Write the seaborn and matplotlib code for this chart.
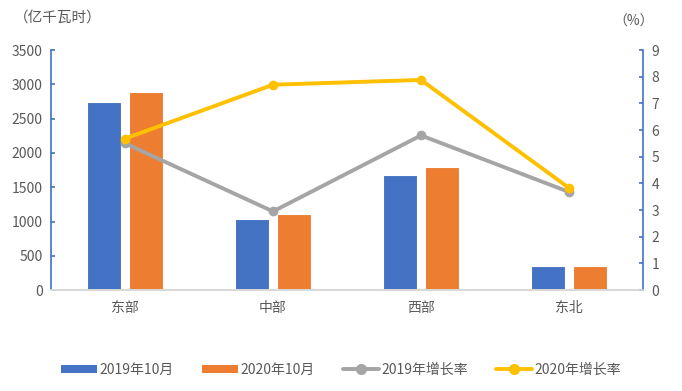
import numpy as np
import pandas as pd
import seaborn as sns
import matplotlib.pyplot as plt
from matplotlib.lines import Line2D
from matplotlib.patches import Patch

regions = ["东部", "中部", "西部", "东北"]
power_2019 = [2740, 1030, 1675, 345]
power_2020 = [2895, 1110, 1800, 358]
growth_2019 = [5.5, 2.95, 5.8, 3.68]
growth_2020 = [5.68, 7.7, 7.88, 3.83]
series_names = ["2019年10月", "2020年10月", "2019年增长率", "2020年增长率"]

blue = "#4472C4"
orange = "#ED7D31"
gray = "#A5A5A5"
yellow = "#FFC000"
text_c = "#595959"

sns.set_theme(style="white")
plt.rcParams["font.family"] = ["Noto Sans CJK SC", "DejaVu Sans"]

bars = pd.DataFrame({
    "region": regions * 2,
    "value": power_2019 + power_2020,
    "series": [series_names[0]] * 4 + [series_names[1]] * 4,
})

fig = plt.figure(figsize=(6.82, 3.91), dpi=100)
ax = fig.add_axes([0.0748, 0.258, 0.868, 0.614])

sns.barplot(data=bars, x="region", y="value", hue="series",
            palette=[blue, orange], saturation=1, width=0.57, gap=0.2,
            edgecolor="white", linewidth=0.8, legend=False, ax=ax)
ax.set_ylim(0, 3500)
ax.set_xlim(-0.5, 3.5)
ax.set_yticks(range(0, 3501, 500))
ax.set_xlabel("")
ax.set_ylabel("")

ax2 = ax.twinx()
pos = list(range(len(regions)))
sns.lineplot(x=pos, y=growth_2019, color=gray, linewidth=2.8, marker="o",
             markersize=7, markeredgewidth=0, ax=ax2)
sns.lineplot(x=pos, y=growth_2020, color=yellow, linewidth=2.8, marker="o",
             markersize=7, markeredgewidth=0, ax=ax2)
ax2.set_ylim(0, 9)
ax2.set_yticks(range(0, 10))

for a in (ax, ax2):
    a.spines["top"].set_visible(False)
    a.spines["bottom"].set_color("#D9D9D9")
    a.spines["left"].set_visible(False)
    a.spines["right"].set_visible(False)
    a.tick_params(axis="y", colors=blue, labelcolor=text_c, labelsize=10,
                  direction="in", length=3, width=1.2)

ax.spines["left"].set_visible(True)
ax.spines["left"].set_color(blue)
ax.spines["left"].set_linewidth(1.2)
ax2.spines["right"].set_visible(True)
ax2.spines["right"].set_color(blue)
ax2.spines["right"].set_linewidth(1.2)
ax.tick_params(axis="x", length=0, labelsize=10, labelcolor=text_c, pad=8)
ax.tick_params(axis="y", left=True, pad=6)
ax2.tick_params(axis="y", right=True, pad=6)

fig.text(0.02, 0.955, "（亿千瓦时）", fontsize=10.5, color=text_c, va="center")
fig.text(0.9, 0.945, "（%）", fontsize=10, color=text_c, va="center")

handles = [
    Patch(facecolor=blue, edgecolor="none"),
    Patch(facecolor=orange, edgecolor="none"),
    Line2D([], [], color=gray, linewidth=2.8, marker="o", markersize=7),
    Line2D([], [], color=yellow, linewidth=2.8, marker="o", markersize=7),
]
fig.legend(handles, series_names, loc="center", bbox_to_anchor=(0.5, 0.055),
           ncol=4, frameon=False, fontsize=10, labelcolor=text_c,
           handlelength=2.6, handleheight=0.5, handletextpad=0.2,
           columnspacing=2.0)

fig.savefig("out.png", dpi=100)
